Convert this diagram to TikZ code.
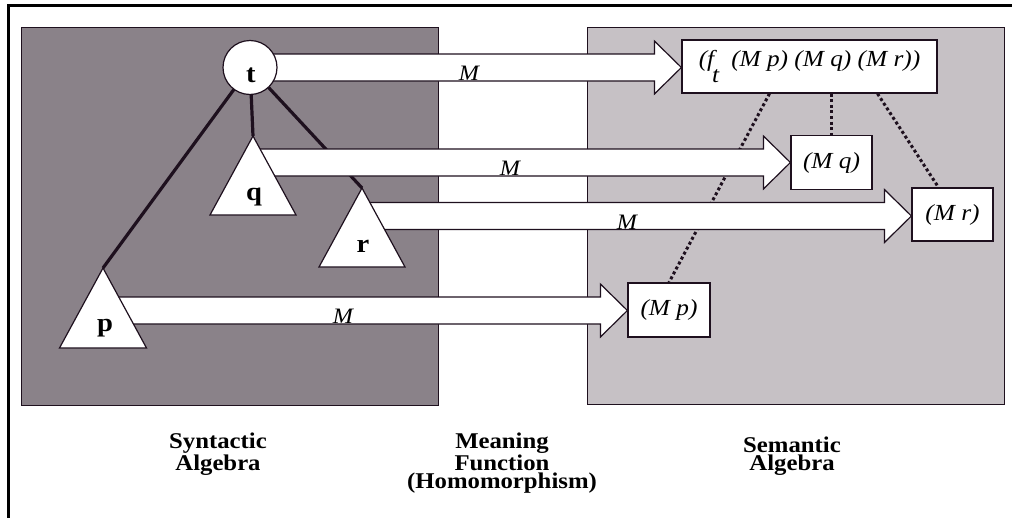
\documentclass[tikz,border=0pt]{standalone}
\usepackage{fontspec}
\setmainfont{Liberation Serif}[FakeStretch=1.1]
\usetikzlibrary{calc}

\definecolor{synbg}{RGB}{138,130,137}
\definecolor{sembg}{RGB}{198,193,197}
\definecolor{inkline}{RGB}{30,16,30}

\tikzset{
  algebra/.style={draw=inkline, line width=1pt},
  treeedge/.style={draw=inkline, line width=3.2pt},
  subtree/.style={draw=inkline, line width=1.2pt, fill=white, line join=miter},
  meaning/.style={draw=inkline, line width=1.2pt, fill=white, line join=miter},
  valuebox/.style={draw=inkline, line width=1.2pt, fill=white, inner sep=0pt,
    font=\fontsize{23}{23}\selectfont\itshape},
  partof/.style={draw=inkline, line width=3pt, dash pattern=on 3pt off 2.6pt},
  mlabel/.style={anchor=base, inner sep=0pt, font=\fontsize{22}{22}\selectfont\itshape},
  termlabel/.style={anchor=base, inner sep=0pt, font=\fontsize{26}{26}\selectfont\bfseries},
  caption/.style={align=center, anchor=base, inner sep=0pt,
    font=\fontsize{22.5}{18}\selectfont\bfseries},
}

% white block arrow from a term to its meaning
\newcommand{\blockarrow}[2]{%
  \draw[meaning] let \p1=(#1), \p2=(#2) in
    (\x1,\y1+13.5pt) -- (\x2-27pt,\y1+13.5pt) -- (\x2-27pt,\y1+26.5pt) -- (\x2,\y1)
    -- (\x2-27pt,\y1-26.5pt) -- (\x2-27pt,\y1-13.5pt) -- (\x1,\y1-13.5pt) -- cycle;}

\begin{document}
\begin{tikzpicture}[x=1pt, y=-1pt]
\useasboundingbox (0,0) rectangle (1012,517);
% frame
\draw[line width=3pt] (8,530) -- (8,5) -- (1030,5);
% the two algebras
\filldraw[algebra, fill=synbg] (21,27) rectangle (438,405);
\filldraw[algebra, fill=sembg] (587,27) rectangle (1004,404);

% terms
\coordinate (t) at (250,67.5);
\coordinate (q) at (253,162.5);
\coordinate (r) at (362,216);
\coordinate (p) at (103,310.5);
\coordinate (q apex) at (253,136);
\coordinate (r apex) at (362,188);
\coordinate (p apex) at (103,268);

\draw[treeedge] (t) -- (p apex);
\draw[treeedge] (t) -- (q apex);
\draw[treeedge] (t) -- (r apex);

% meanings
\node[valuebox, minimum width=255pt, minimum height=53pt] (ft) at (809.5,66.5)
  {(f\kern-2pt\raisebox{-16pt}{t}\hspace{12pt}(M p) (M q) (M r))};
\node[valuebox, minimum width=81pt, minimum height=54pt] (Mq) at (831.5,162.5) {(M q)};
\node[valuebox, minimum width=81pt, minimum height=53pt] (Mr) at (952.5,214.5) {(M r)};
\node[valuebox, minimum width=82pt, minimum height=54pt] (Mp) at (669,310) {(M p)};

\draw[partof] ([xshift=-40pt]ft.south) -- (Mp.north);
\draw[partof] (Mq.north |- ft.south) -- (Mq.north);
\draw[partof] ([xshift=68pt]ft.south) -- ([xshift=-14pt]Mr.north);

% the meaning function
\blockarrow{t}{ft.west}
\blockarrow{q}{Mq.west}
\blockarrow{r}{Mr.west}
\blockarrow{p}{Mp.west}

\node[mlabel] (m t) at (469,80.5) {M};
\node[mlabel] (m q) at (510,175.5) {M};
\node[mlabel] (m r) at (627,229.5) {M};
\node[mlabel] (m p) at (343,323.5) {M};

% syntax tree
\draw[subtree] (q apex) -- ++(43,79) -- ++(-86,0) -- cycle;
\draw[subtree] (r apex) -- ++(43,79) -- ++(-86,0) -- cycle;
\draw[subtree] (p apex) -- ++(43.5,80) -- ++(-87,0) -- cycle;
\node[circle, draw=inkline, line width=1.2pt, fill=white, minimum size=54pt,
  inner sep=0pt] (t node) at (t) {};

\node[termlabel] (t label) at (251,82) {t};
\node[termlabel] (q label) at (254,200) {q};
\node[termlabel] (r label) at (363,252) {r};
\node[termlabel] (p label) at (105,331) {p};

% captions
\node[caption] (syn) at (218,470) {Syntactic\\Algebra};
\node[caption] (fun) at (502,488) {Meaning\\Function\\(Homomorphism)};
\node[caption] (sem) at (792,470) {Semantic\\Algebra};
\end{tikzpicture}
\end{document}
